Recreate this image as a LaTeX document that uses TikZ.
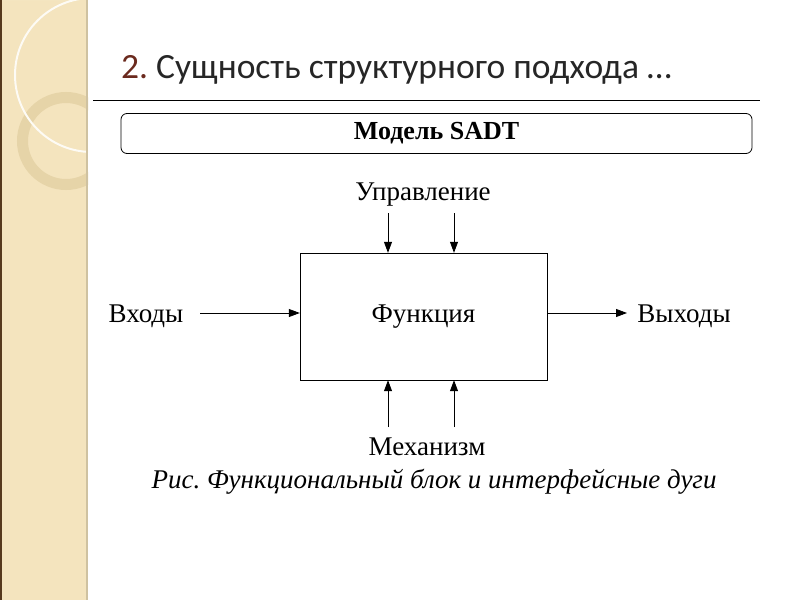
\documentclass[tikz,border=0pt]{standalone}
\usepackage{fontspec}
\setmainfont{Liberation Serif}
\newfontfamily\titlefont{Carlito}
\usepackage{xcolor}
\usetikzlibrary{arrows.meta,positioning,calc}
\definecolor{stripe}{HTML}{F4E4BE}
\definecolor{stripelight}{HTML}{F8EED5}
\definecolor{ringtan}{HTML}{E6D4A8}
\definecolor{numred}{HTML}{6B2A1E}
\frenchspacing
\begin{document}
\begin{tikzpicture}[x=1pt,y=-1pt,>={Triangle[length=11pt,width=8pt]},
  every node/.style={inner sep=0pt},
  label/.style={font=\fontsize{27}{30}\selectfont},
  funcbox/.style={draw, minimum width=247pt, minimum height=127pt, font=\fontsize{27}{30}\selectfont},
  modelbox/.style={draw, fill=white, line width=0.8pt, rounded corners=6pt, minimum width=631pt, minimum height=40pt, font=\bfseries\fontsize{26}{29}\selectfont},
  arc/.style={->, line width=0.8pt}]
\useasboundingbox (0,0) rectangle (800,600);
\fill[white] (0,0) rectangle (800,600);
% left stripe with circles
\fill[stripe] (0,0) rectangle (88,600);
\begin{scope}
  \clip (0,0) rectangle (88,600);
  \fill[stripelight] (0,0) -- (72,0) arc[start angle=0, end angle=90, x radius=72, y radius=-72] -- cycle;
  \draw[ringtan, line width=11pt] (66,141) circle[radius=43.5];
  \draw[white!85!stripe, line width=2pt] (92,75) circle[radius=77];
\end{scope}
\fill[black!55!brown] (0,0) rectangle (2,600);
\fill[stripe!85!black] (86,0) rectangle (88,600);
% title
\node[anchor=west, font=\titlefont\fontsize{35.5}{39}\selectfont, text=black!85] (title) at (121,70) {\textcolor{numred}{2.} Сущность структурного подхода …};
\draw[line width=0.8pt] (93,100.5) -- (760,100.5);
\node[modelbox] (model) at (436.5,133.5) {Модель SADT};
% SADT block
\node[funcbox] (func) at (423.5,316.5) {Функция};
\node[label] (ctrl) at (423,195) {Управление};
\node[label] (mech) at (427,447) {Механизм};
\node[label] (inp) at (146,316) {Входы};
\node[label] (outp) at (684,316) {Выходы};
\coordinate (c1) at (388,213);
\coordinate (c2) at (454,213);
\coordinate (m1) at (388,427);
\coordinate (m2) at (454,427);
\coordinate (i1) at (200,313);
\coordinate (o1) at (627,313);
\draw[arc] (c1) -- (c1 |- func.north);
\draw[arc] (c2) -- (c2 |- func.north);
\draw[arc] (m1) -- (m1 |- func.south);
\draw[arc] (m2) -- (m2 |- func.south);
\draw[arc] (i1) -- (i1 -| func.west);
\draw[arc] (func.east |- o1) -- (o1);
\node[font=\itshape\fontsize{27}{30}\selectfont] (caption) at (434,482) {Рис. Функциональный блок и интерфейсные дуги};
\end{tikzpicture}
\end{document}
